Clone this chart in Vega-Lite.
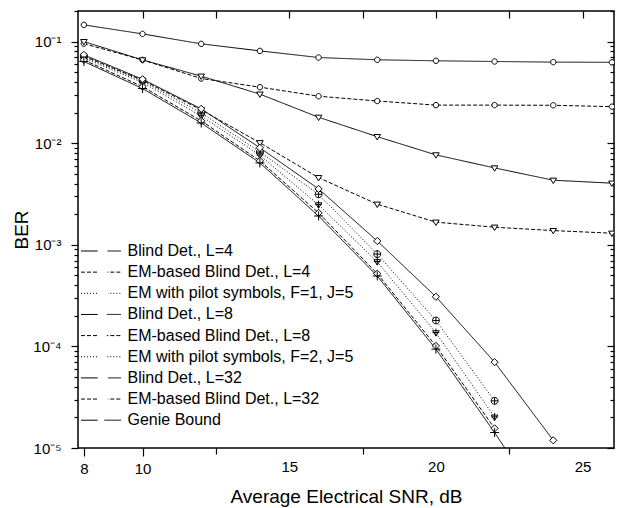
{
  "$schema": "https://vega.github.io/schema/vega-lite/v6.json",
  "width": 536,
  "height": 437,
  "autosize": "none",
  "padding": {"left": 78, "top": 11, "right": 3, "bottom": 60},
  "config": {
    "font": "Liberation Sans",
    "view": {"stroke": "black", "strokeWidth": 1.5},
    "axis": {"domain": false, "grid": false, "labelColor": "black", "titleColor": "black", "tickColor": "black", "tickWidth": 1.2, "labelFontSize": 15, "titleFontSize": 19, "titleFontWeight": "normal", "labelFont": "Liberation Sans", "titleFont": "Liberation Sans"},
    "legend": {"labelFont": "Liberation Sans", "labelFontSize": 16, "labelColor": "black", "padding": 0, "labelLimit": 400}
  },
  "data": {"values": [
    {"s": "Blind Det., L=4", "x": 8, "y": 0.146}, {"s": "Blind Det., L=4", "x": 10, "y": 0.119}, {"s": "Blind Det., L=4", "x": 12, "y": 0.095}, {"s": "Blind Det., L=4", "x": 14, "y": 0.081}, {"s": "Blind Det., L=4", "x": 16, "y": 0.0697}, {"s": "Blind Det., L=4", "x": 18, "y": 0.0662}, {"s": "Blind Det., L=4", "x": 20, "y": 0.0647}, {"s": "Blind Det., L=4", "x": 22, "y": 0.0637}, {"s": "Blind Det., L=4", "x": 24, "y": 0.0628}, {"s": "Blind Det., L=4", "x": 26, "y": 0.0625},
    {"s": "EM-based Blind Det., L=4", "x": 8, "y": 0.0954}, {"s": "EM-based Blind Det., L=4", "x": 10, "y": 0.066}, {"s": "EM-based Blind Det., L=4", "x": 12, "y": 0.0433}, {"s": "EM-based Blind Det., L=4", "x": 14, "y": 0.0356}, {"s": "EM-based Blind Det., L=4", "x": 16, "y": 0.029}, {"s": "EM-based Blind Det., L=4", "x": 18, "y": 0.026}, {"s": "EM-based Blind Det., L=4", "x": 20, "y": 0.0237}, {"s": "EM-based Blind Det., L=4", "x": 22, "y": 0.0237}, {"s": "EM-based Blind Det., L=4", "x": 24, "y": 0.0236}, {"s": "EM-based Blind Det., L=4", "x": 26, "y": 0.0229},
    {"s": "EM with pilot symbols, F=1, J=5", "x": 8, "y": 0.071}, {"s": "EM with pilot symbols, F=1, J=5", "x": 10, "y": 0.0409}, {"s": "EM with pilot symbols, F=1, J=5", "x": 12, "y": 0.0199}, {"s": "EM with pilot symbols, F=1, J=5", "x": 14, "y": 0.0082}, {"s": "EM with pilot symbols, F=1, J=5", "x": 16, "y": 0.00314}, {"s": "EM with pilot symbols, F=1, J=5", "x": 18, "y": 0.00081}, {"s": "EM with pilot symbols, F=1, J=5", "x": 20, "y": 0.00018}, {"s": "EM with pilot symbols, F=1, J=5", "x": 22, "y": 0.0000291},
    {"s": "Blind Det., L=8", "x": 8, "y": 0.1}, {"s": "Blind Det., L=8", "x": 10, "y": 0.066}, {"s": "Blind Det., L=8", "x": 12, "y": 0.0457}, {"s": "Blind Det., L=8", "x": 14, "y": 0.0304}, {"s": "Blind Det., L=8", "x": 16, "y": 0.018}, {"s": "Blind Det., L=8", "x": 18, "y": 0.0116}, {"s": "Blind Det., L=8", "x": 20, "y": 0.00767}, {"s": "Blind Det., L=8", "x": 22, "y": 0.00571}, {"s": "Blind Det., L=8", "x": 24, "y": 0.00432}, {"s": "Blind Det., L=8", "x": 26, "y": 0.00404},
    {"s": "EM-based Blind Det., L=8", "x": 8, "y": 0.072}, {"s": "EM-based Blind Det., L=8", "x": 10, "y": 0.0417}, {"s": "EM-based Blind Det., L=8", "x": 12, "y": 0.0213}, {"s": "EM-based Blind Det., L=8", "x": 14, "y": 0.0101}, {"s": "EM-based Blind Det., L=8", "x": 16, "y": 0.00458}, {"s": "EM-based Blind Det., L=8", "x": 18, "y": 0.00251}, {"s": "EM-based Blind Det., L=8", "x": 20, "y": 0.00167}, {"s": "EM-based Blind Det., L=8", "x": 22, "y": 0.00149}, {"s": "EM-based Blind Det., L=8", "x": 24, "y": 0.00138}, {"s": "EM-based Blind Det., L=8", "x": 26, "y": 0.0013},
    {"s": "EM with pilot symbols, F=2, J=5", "x": 8, "y": 0.069}, {"s": "EM with pilot symbols, F=2, J=5", "x": 10, "y": 0.0395}, {"s": "EM with pilot symbols, F=2, J=5", "x": 12, "y": 0.0185}, {"s": "EM with pilot symbols, F=2, J=5", "x": 14, "y": 0.0076}, {"s": "EM with pilot symbols, F=2, J=5", "x": 16, "y": 0.00247}, {"s": "EM with pilot symbols, F=2, J=5", "x": 18, "y": 0.00068}, {"s": "EM with pilot symbols, F=2, J=5", "x": 20, "y": 0.000136}, {"s": "EM with pilot symbols, F=2, J=5", "x": 22, "y": 0.0000201},
    {"s": "Blind Det., L=32", "x": 8, "y": 0.074}, {"s": "Blind Det., L=32", "x": 10, "y": 0.0426}, {"s": "Blind Det., L=32", "x": 12, "y": 0.0218}, {"s": "Blind Det., L=32", "x": 14, "y": 0.009}, {"s": "Blind Det., L=32", "x": 16, "y": 0.00355}, {"s": "Blind Det., L=32", "x": 18, "y": 0.00109}, {"s": "Blind Det., L=32", "x": 20, "y": 0.000308}, {"s": "Blind Det., L=32", "x": 22, "y": 0.00007}, {"s": "Blind Det., L=32", "x": 24, "y": 0.0000119},
    {"s": "EM-based Blind Det., L=32", "x": 8, "y": 0.066}, {"s": "EM-based Blind Det., L=32", "x": 10, "y": 0.036}, {"s": "EM-based Blind Det., L=32", "x": 12, "y": 0.0166}, {"s": "EM-based Blind Det., L=32", "x": 14, "y": 0.0067}, {"s": "EM-based Blind Det., L=32", "x": 16, "y": 0.00206}, {"s": "EM-based Blind Det., L=32", "x": 18, "y": 0.00052}, {"s": "EM-based Blind Det., L=32", "x": 20, "y": 0.000101}, {"s": "EM-based Blind Det., L=32", "x": 22, "y": 0.0000156},
    {"s": "Genie Bound", "x": 8, "y": 0.0637}, {"s": "Genie Bound", "x": 10, "y": 0.0345}, {"s": "Genie Bound", "x": 12, "y": 0.0158}, {"s": "Genie Bound", "x": 14, "y": 0.0064}, {"s": "Genie Bound", "x": 16, "y": 0.00192}, {"s": "Genie Bound", "x": 18, "y": 0.000493}, {"s": "Genie Bound", "x": 20, "y": 0.000094}, {"s": "Genie Bound", "x": 22, "y": 0.0000142}, {"s": "Genie Bound", "x": 24, "y": 0.0000019}
  ]},
  "layer": [
    {
      "mark": {"type": "line", "clip": true, "color": "black", "strokeWidth": 1},
      "encoding": {
        "x": {"field": "x", "type": "quantitative", "scale": {"domain": [7.8, 26.07], "nice": false, "zero": false},
          "axis": {"orient": "bottom", "title": "Average Electrical SNR, dB", "values": [8, 10, 12.5, 15, 17.5, 20, 22.5, 25],
            "labelExpr": "(datum.value == 12.5 || datum.value == 17.5 || datum.value == 22.5) ? '' : datum.label",
            "labelOverlap": false, "labelFlush": false,
            "tickSize": {"condition": {"test": "datum.value <= 10", "value": 8}, "value": 6},
            "tickOpacity": {"condition": {"test": "datum.value == 15 || datum.value == 20 || datum.value == 25", "value": 0}, "value": 1},
            "labelPadding": 5, "titlePadding": 11}},
        "y": {"field": "y", "type": "quantitative", "scale": {"type": "log", "domain": [0.00001, 0.2], "nice": false},
          "axis": {"orient": "left", "title": "BER",
            "values": [0.00001, 0.00002, 0.00003, 0.00004, 0.00005, 0.00006, 0.00007, 0.00008, 0.00009, 0.0001, 0.0002, 0.0003, 0.0004, 0.0005, 0.0006, 0.0007, 0.0008, 0.0009, 0.001, 0.002, 0.003, 0.004, 0.005, 0.006, 0.007, 0.008, 0.009, 0.01, 0.02, 0.03, 0.04, 0.05, 0.06, 0.07, 0.08, 0.09, 0.1, 0.2],
            "labelExpr": "abs(log(datum.value)/LN10 - round(log(datum.value)/LN10)) < 0.001 ? '10' + ['', '⁻¹', '⁻²', '⁻³', '⁻⁴', '⁻⁵'][-round(log(datum.value)/LN10)] : ''",
            "labelOverlap": false, "labelFlush": false,
            "tickSize": {"condition": {"test": "abs(log(datum.value)/LN10 - round(log(datum.value)/LN10)) < 0.001", "value": 7}, "value": 4},
            "labelPadding": 10, "titlePadding": 1}},
        "strokeDash": {"field": "s", "type": "nominal",
          "sort": ["Blind Det., L=4", "EM-based Blind Det., L=4", "EM with pilot symbols, F=1, J=5", "Blind Det., L=8", "EM-based Blind Det., L=8", "EM with pilot symbols, F=2, J=5", "Blind Det., L=32", "EM-based Blind Det., L=32", "Genie Bound"],
          "scale": {"range": [[1, 0], [4, 2], [1, 2], [1, 0], [4, 2], [1, 2], [1, 0], [4, 2], [1, 0]]},
          "legend": {"orient": "none", "legendX": 15, "legendY": 232, "title": null, "symbolType": "M-3,0H-0.5M0.5,0H3", "symbolSize": 178, "symbolStrokeColor": "black", "symbolStrokeWidth": 1, "labelOffset": 18.5, "rowPadding": 5.15}}
      }
    },
    {
      "mark": {"type": "point", "clip": true, "filled": true, "fill": "white", "stroke": "black", "strokeWidth": 1, "size": 36, "opacity": 1},
      "encoding": {
        "x": {"field": "x", "type": "quantitative",
          "axis": {"orient": "top", "title": null, "labels": false, "values": [10, 12.5, 15, 17.5, 20, 22.5, 25], "tickSize": -7}},
        "y": {"field": "y", "type": "quantitative",
          "axis": {"orient": "right", "title": null, "labels": false,
            "values": [0.00001, 0.00002, 0.00003, 0.00004, 0.00005, 0.00006, 0.00007, 0.00008, 0.00009, 0.0001, 0.0002, 0.0003, 0.0004, 0.0005, 0.0006, 0.0007, 0.0008, 0.0009, 0.001, 0.002, 0.003, 0.004, 0.005, 0.006, 0.007, 0.008, 0.009, 0.01, 0.02, 0.03, 0.04, 0.05, 0.06, 0.07, 0.08, 0.09, 0.1, 0.2],
            "tickSize": {"condition": {"test": "abs(log(datum.value)/LN10 - round(log(datum.value)/LN10)) < 0.001", "value": -7}, "value": -4}}},
        "shape": {"field": "s", "type": "nominal",
          "scale": {"domain": ["Blind Det., L=4", "EM-based Blind Det., L=4", "EM with pilot symbols, F=1, J=5", "Blind Det., L=8", "EM-based Blind Det., L=8", "EM with pilot symbols, F=2, J=5", "Blind Det., L=32", "EM-based Blind Det., L=32", "Genie Bound"],
            "range": [
              "M-0.9,0A0.9,0.9,0,1,1,0.9,0A0.9,0.9,0,1,1,-0.9,0Z",
              "M-0.9,0A0.9,0.9,0,1,1,0.9,0A0.9,0.9,0,1,1,-0.9,0Z",
              "M-1.15,0A1.15,1.15,0,1,1,1.15,0A1.15,1.15,0,1,1,-1.15,0ZM-1.15,0H1.15M0,-1.15V1.15",
              "M-1.1,-0.7H1.1L0,1.1Z",
              "M-1.1,-0.7H1.1L0,1.1Z",
              "M-1.1,-0.7H1.1L0,1.1ZM0,-1.4V1.1M-1.1,-0.1H1.1",
              "M0,-1.2L1.2,0L0,1.2L-1.2,0Z",
              "M0,-1.2L1.2,0L0,1.2L-1.2,0Z",
              "M-1.5,0H1.5M0,-1.5V1.5"
            ]},
          "legend": {"orient": "none", "legendX": 18.8, "legendY": 232, "title": null, "symbolSize": 36, "symbolFillColor": "white", "symbolStrokeColor": "black", "symbolStrokeWidth": 1, "symbolOpacity": 1, "labelColor": "transparent", "labelExpr": "''", "rowPadding": 5.15,
            "encode": {"symbols": {"stroke": {"value": "black"}, "fill": {"value": "white"}, "strokeWidth": {"value": 1}, "opacity": {"value": 1}}}}}
      }
    }
  ],
  "resolve": {"axis": {"x": "independent", "y": "independent"}}
}
